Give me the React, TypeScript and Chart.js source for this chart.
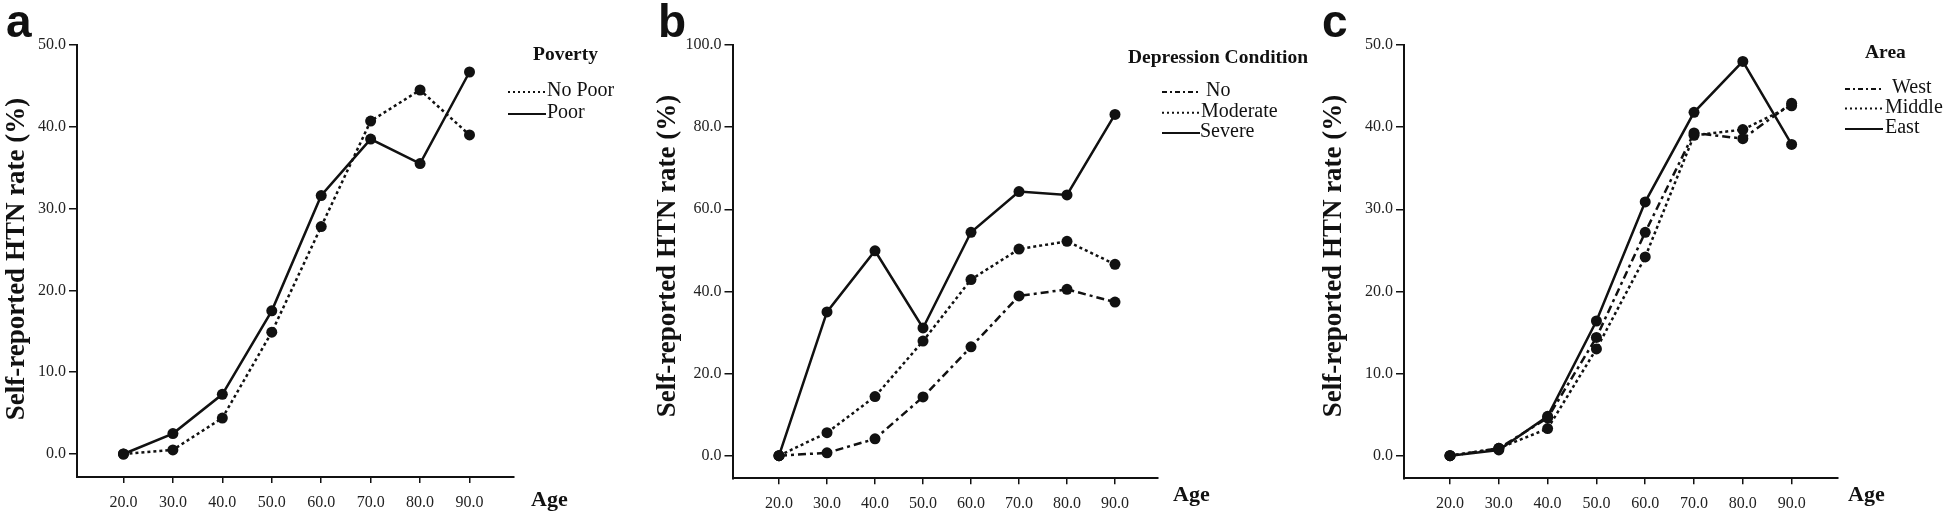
import React, { useEffect, useRef } from "react";
import { Chart, registerables } from "chart.js";

Chart.register(...registerables);

// ---------------- data ----------------
const ages = [20, 30, 40, 50, 60, 70, 80, 90];
const yTicks50 = [0, 10, 20, 30, 40, 50];
const yTicks100 = [0, 20, 40, 60, 80, 100];

const povertyLabels = ["No Poor", "Poor"];
const noPoor = [0.0, 0.5, 4.4, 14.9, 27.8, 40.7, 44.5, 39.0];
const poor = [0.0, 2.5, 7.3, 17.5, 31.6, 38.5, 35.5, 46.7];

const depressionLabels = ["No", "Moderate", "Severe"];
const depNo = [0.0, 0.7, 4.1, 14.3, 26.5, 38.9, 40.5, 37.4];
const depModerate = [0.0, 5.6, 14.4, 27.9, 42.9, 50.3, 52.2, 46.6];
const depSevere = [0.0, 35.0, 49.9, 31.1, 54.4, 64.3, 63.5, 83.1];

const areaLabels = ["West", "Middle", "East"];
const areaWest = [0.0, 0.9, 4.6, 14.4, 27.2, 39.3, 38.6, 42.9];
const areaMiddle = [0.0, 0.9, 3.3, 13.0, 24.2, 39.0, 39.7, 42.6];
const areaEast = [0.0, 0.7, 4.8, 16.4, 30.9, 41.8, 48.0, 37.9];

// ---------------- styles ----------------
const INK = "#111111";
const SERIF = '"Liberation Serif", "Times New Roman", serif';
const SANS = '"Liberation Sans", Arial, sans-serif';
const DOTTED = [3, 3];
const DASHDOT = [8, 4, 3, 4];
const SOLID: number[] = [];
const LEG_DOTTED = [2, 3];
const LEG_DASHDOT = [5, 3, 2, 3];
const H = 516;

type PanelSpec = {
  left: number;
  width: number;
  axisX: number;
  right: number;
  top: number;
  bottom: number;
  xMin: number;
  xMax: number;
  yMin: number;
  yMax: number;
  yTicks: number[];
  letter: string;
  letterX: number;
  yTitleX: number;
  yTitleY: number;
  ageX: number;
  ageY: number;
  legendTitle: string;
  legendTitleX: number;
  legendTitleY: number;
  sampleX0: number;
  sampleX1: number;
  textX: number[];
  rowY: number[];
  labels: string[];
  series: number[][];
  dashes: number[][];
  legendDashes: number[][];
};

const panels: PanelSpec[] = [
  {
    left: 0, width: 650, axisX: 77, right: 514, top: 45, bottom: 477,
    xMin: 10.6, xMax: 99.0, yMin: -2.81, yMax: 50, yTicks: yTicks50,
    letter: "a", letterX: 6, yTitleX: 17, yTitleY: 259, ageX: 531, ageY: 500,
    legendTitle: "Poverty", legendTitleX: 533, legendTitleY: 55,
    sampleX0: 508, sampleX1: 546, textX: [547, 547], rowY: [91, 113],
    labels: povertyLabels, series: [noPoor, poor],
    dashes: [DOTTED, SOLID], legendDashes: [LEG_DOTTED, SOLID],
  },
  {
    left: 650, width: 670, axisX: 732.5, right: 1158, top: 45, bottom: 478.3,
    xMin: 10.31, xMax: 98.96, yMin: -5.5, yMax: 100, yTicks: yTicks100,
    letter: "b", letterX: 658, yTitleX: 668, yTitleY: 256, ageX: 1173, ageY: 495,
    legendTitle: "Depression Condition", legendTitleX: 1128, legendTitleY: 58,
    sampleX0: 1162, sampleX1: 1200, textX: [1206, 1201, 1200], rowY: [91, 111.7, 132],
    labels: depressionLabels, series: [depNo, depModerate, depSevere],
    dashes: [DASHDOT, DOTTED, SOLID], legendDashes: [LEG_DASHDOT, LEG_DOTTED, SOLID],
  },
  {
    left: 1300, width: 646, axisX: 1404, right: 1837.5, top: 45, bottom: 478.3,
    xMin: 10.57, xMax: 99.4, yMin: -2.75, yMax: 50, yTicks: yTicks50,
    letter: "c", letterX: 1322, yTitleX: 1334, yTitleY: 256, ageX: 1848, ageY: 495,
    legendTitle: "Area", legendTitleX: 1865, legendTitleY: 53,
    sampleX0: 1845, sampleX1: 1883, textX: [1892, 1885, 1885], rowY: [88, 107.5, 128],
    labels: areaLabels, series: [areaWest, areaMiddle, areaEast],
    dashes: [DASHDOT, DOTTED, SOLID], legendDashes: [LEG_DASHDOT, LEG_DOTTED, SOLID],
  },
];

function overlayPlugin(p: PanelSpec) {
  return {
    id: "overlay" + p.letter,
    afterDraw(chart: any) {
      const ctx: CanvasRenderingContext2D = chart.ctx;
      const ox = p.left;
      ctx.save();
      ctx.fillStyle = INK;
      ctx.strokeStyle = INK;
      // panel letter
      ctx.font = "bold 46px " + SANS;
      ctx.textAlign = "left";
      ctx.textBaseline = "alphabetic";
      ctx.fillText(p.letter, p.letterX - ox, 37);
      // y title
      ctx.save();
      ctx.translate(p.yTitleX - ox, p.yTitleY);
      ctx.rotate(-Math.PI / 2);
      ctx.font = "bold 27px " + SERIF;
      ctx.textAlign = "center";
      ctx.textBaseline = "middle";
      ctx.fillText("Self-reported HTN rate (%)", 0, 0);
      ctx.restore();
      // x title
      ctx.font = "bold 22px " + SERIF;
      ctx.textAlign = "left";
      ctx.textBaseline = "middle";
      ctx.fillText("Age", p.ageX - ox, p.ageY);
      // legend title
      ctx.font = "bold 19.5px " + SERIF;
      ctx.fillText(p.legendTitle, p.legendTitleX - ox, p.legendTitleY);
      // legend items
      ctx.font = "20px " + SERIF;
      p.labels.forEach((lab, i) => {
        const y = p.rowY[i];
        ctx.save();
        ctx.lineWidth = 2;
        ctx.setLineDash(p.legendDashes[i]);
        ctx.beginPath();
        ctx.moveTo(p.sampleX0 - ox, y + 1);
        ctx.lineTo(p.sampleX1 - ox, y + 1);
        ctx.stroke();
        ctx.restore();
        ctx.fillText(lab, p.textX[i] - ox, y);
      });
      ctx.restore();
    },
  };
}

function Panel({ p }: { p: PanelSpec }) {
  const ref = useRef<HTMLCanvasElement | null>(null);
  useEffect(() => {
    if (!ref.current) return;
    const tickFont = { family: SERIF, size: 16 };
    const chart = new Chart(ref.current, {
      type: "line",
      data: {
        datasets: p.series.map((vals, i) => ({
          label: p.labels[i],
          data: ages.map((a, j) => ({ x: a, y: vals[j] })),
          borderColor: INK,
          backgroundColor: INK,
          borderWidth: 2.5,
          borderDash: p.dashes[i],
          pointRadius: 5.5,
          pointBackgroundColor: INK,
          pointBorderColor: INK,
          pointBorderWidth: 0,
          tension: 0,
          fill: false,
        })),
      },
      options: {
        animation: false,
        responsive: false,
        maintainAspectRatio: false,
        events: [],
        layout: {
          padding: { top: p.top, right: p.left + p.width - p.right, left: 0, bottom: 0 },
        },
        plugins: { legend: { display: false }, tooltip: { enabled: false } },
        scales: {
          x: {
            type: "linear",
            min: p.xMin,
            max: p.xMax,
            afterFit: (s: any) => {
              s.height = H - p.bottom;
            },
            afterBuildTicks: (s: any) => {
              s.ticks = ages.map((v) => ({ value: v }));
            },
            grid: { drawOnChartArea: false, drawTicks: true, tickLength: 6, color: INK, lineWidth: 1.5 },
            border: { display: true, color: INK, width: 2 },
            ticks: {
              padding: 10,
              color: "#222",
              font: tickFont,
              autoSkip: false,
              maxRotation: 0,
              callback: (v: any) => Number(v).toFixed(1),
            },
          },
          y: {
            type: "linear",
            min: p.yMin,
            max: p.yMax,
            afterFit: (s: any) => {
              s.width = p.axisX - p.left;
            },
            afterBuildTicks: (s: any) => {
              s.ticks = p.yTicks.map((v) => ({ value: v }));
            },
            grid: { drawOnChartArea: false, drawTicks: true, tickLength: 8, color: INK, lineWidth: 1.5 },
            border: { display: true, color: INK, width: 2 },
            ticks: {
              padding: 3,
              color: "#222",
              font: tickFont,
              autoSkip: false,
              callback: (v: any) => Number(v).toFixed(1),
            },
          },
        },
      } as any,
      plugins: [overlayPlugin(p)],
    });
    return () => {
      chart.destroy();
    };
  }, [p]);
  return (
    <canvas
      ref={ref}
      width={p.width}
      height={H}
      style={{ position: "absolute", left: p.left, top: 0, width: p.width, height: H }}
    />
  );
}

export default function App() {
  return (
    <div
      style={{
        position: "fixed",
        left: 0,
        top: 0,
        width: 1946,
        height: H,
        background: "#ffffff",
        overflow: "hidden",
      }}
    >
      {panels.map((p) => (
        <Panel key={p.letter} p={p} />
      ))}
    </div>
  );
}
